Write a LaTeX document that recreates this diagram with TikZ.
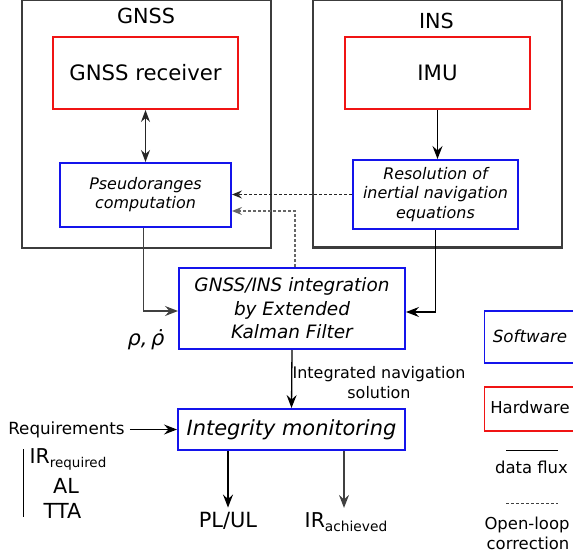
\documentclass[tikz,border=0pt]{standalone}
\usepackage{fontspec}
\setmainfont{DejaVu Sans}
\usetikzlibrary{arrows.meta,calc}
\definecolor{hwred}{RGB}{240,20,20}
\definecolor{swblue}{RGB}{20,20,235}
\definecolor{framegray}{RGB}{60,60,60}
\begin{document}
\begin{tikzpicture}[x=1bp,y=-1bp,
  outer/.style={draw=framegray, line width=2.2bp, inner sep=0pt},
  hwbox/.style={draw=hwred, line width=2bp, align=center, font=\fontsize{21.3}{25}\selectfont},
  swbox/.style={draw=swblue, line width=2bp, align=center},
  txt/.style={inner sep=0pt, align=center},
  flow/.style={draw=black, line width=1.3bp, -{Stealth[length=13bp,width=10bp,inset=4.5bp]}},
  biflow/.style={draw=black!85, line width=1.3bp, {Stealth[length=12bp,width=9bp,inset=4bp]}-{Stealth[length=12bp,width=9bp,inset=4bp]}},
  plain/.style={draw=black, line width=1.2bp},
  openloop/.style={draw=black!85, line width=1.1bp, dash pattern=on 3bp off 2bp, -{Stealth[length=10bp,width=8bp,inset=3.5bp]}},
  legdash/.style={draw=black!75, line width=1bp, dash pattern=on 3bp off 2bp},
  legbox/.style={line width=1.4bp, minimum width=130bp, anchor=west, inner sep=0pt}
]
\useasboundingbox (0,0) rectangle (573,557);
\clip (0,0) rectangle (573,557);

% outer frames
\node[outer, minimum width=249bp, minimum height=248bp] (gnss) at (146.5,124) {};
\node[outer, minimum width=249bp, minimum height=248bp] (ins) at (437.5,123.5) {};
\node[txt, anchor=base, font=\fontsize{20.8}{24}\selectfont] (gnsslbl) at (146,24) {GNSS};
\node[txt, anchor=base, font=\fontsize{20.8}{24}\selectfont] (inslbl) at (436.5,29) {INS};

% hardware
\node[hwbox, minimum width=185bp, minimum height=72bp] (rx) at (145.5,73) {GNSS receiver};
\node[hwbox, minimum width=185bp, minimum height=72bp] (imu) at (437.5,73) {IMU};

% software
\node[swbox, minimum width=171bp, minimum height=64bp, font=\fontsize{16}{19}\selectfont\itshape] (pr) at (145.5,195) {Pseudoranges\\computation};
\node[swbox, minimum width=165bp, minimum height=69bp, font=\fontsize{16}{19.5}\selectfont\itshape] (res) at (435.5,194.5) {Resolution of\\inertial navigation\\equations};
\node[swbox, minimum width=226bp, minimum height=81bp, font=\fontsize{18.5}{23.5}\selectfont\itshape] (kf) at (292,308.5) {GNSS/INS integration\\by Extended\\Kalman Filter};
\node[swbox, minimum width=227bp, minimum height=41bp, font=\fontsize{21}{25}\selectfont\itshape] (im) at (291.5,429.5) {Integrity monitoring};

% connectors
\draw[biflow] (rx.south) -- (pr.north);
\draw[flow] (imu.south) -- (imu.south |- res.north);
\draw[flow, draw=black!75] ($(pr.south)+(-2,0)$) |- ($(kf.west)+(0,2.5)$);
\draw[flow] (res.south) |- ($(kf.east)+(0,3.5)$);
\draw[openloop] (res.west) -- (res.west -| pr.east);
\draw[openloop, draw=black!60] ($(kf.north)+(3,0)$) |- ($(pr.east)+(0,16)$);
\draw[flow] (kf.south) -- (im.north);

\node[txt, anchor=base, font=\fontsize{21}{24}\selectfont\itshape] (rho) at (146,345) {ρ,\,\rlap{ρ}\makebox[0.635em][c]{\kern0.12em˙}};
\node[txt, font=\fontsize{16}{20}\selectfont] (insol) at (379,383) {Integrated navigation\\solution};

\node[anchor=base, inner sep=5bp, font=\fontsize{16.8}{20}\selectfont] (req) at (66.5,434) {Requirements};
\draw[flow] (req.east |- im.west) -- (im.west);

\node[txt, anchor=base, font=\fontsize{20.5}{24}\selectfont] (irr) at (68,463) {IR\raisebox{-4bp}{\fontsize{13.5}{14}\selectfont required}};
\node[txt, anchor=base, font=\fontsize{20.8}{24}\selectfont] (al) at (66,493) {AL};
\node[txt, anchor=base, font=\fontsize{20.8}{24}\selectfont] (tta) at (62.5,518) {TTA};
\coordinate (bartop) at (23,449);
\coordinate (barbot) at (23,517);
\draw[plain, line width=1bp] (bartop) -- (barbot);

\node[anchor=base, inner sep=4bp, font=\fontsize{21}{24}\selectfont] (plul) at (228,527) {PL/UL};
\node[anchor=base, inner sep=4bp, font=\fontsize{20.5}{24}\selectfont] (irach) at (346,527) {IR\raisebox{-4bp}{\fontsize{13.8}{14}\selectfont achieved}};
\draw[flow] (plul.north |- im.south) -- (plul.north);
\draw[flow, draw=black!75] ($(irach.north |- im.south)+(-2,0)$) -- ($(irach.north)+(-2,0)$);

% legend
\node[legbox, draw=swblue, minimum height=52bp] (sw) at (484,337) {};
\node[txt, anchor=base, font=\fontsize{16.8}{20}\selectfont\itshape] (swt) at (530,342) {Software};
\node[legbox, draw=hwred, minimum height=44bp] (hw) at (484,409) {};
\node[txt, anchor=base, font=\fontsize{16.5}{20}\selectfont] (hwt) at (530,413) {Hardware};
\coordinate (fl1) at (506,450);
\coordinate (fl2) at (558,450);
\draw[plain, line width=1bp] (fl1) -- (fl2);
\node[txt, anchor=base, font=\fontsize{16.5}{20}\selectfont] (flt) at (531.5,473) {data flux};
\coordinate (ol1) at (506,503);
\coordinate (ol2) at (558,503);
\draw[legdash] (ol1) -- (ol2);
\node[txt, anchor=base, font=\fontsize{16.5}{20}\selectfont] (olt) at (527,529) {Open-loop};
\node[txt, anchor=base, font=\fontsize{16.5}{20}\selectfont] (olt2) at (528,549) {correction};
\end{tikzpicture}
\end{document}
